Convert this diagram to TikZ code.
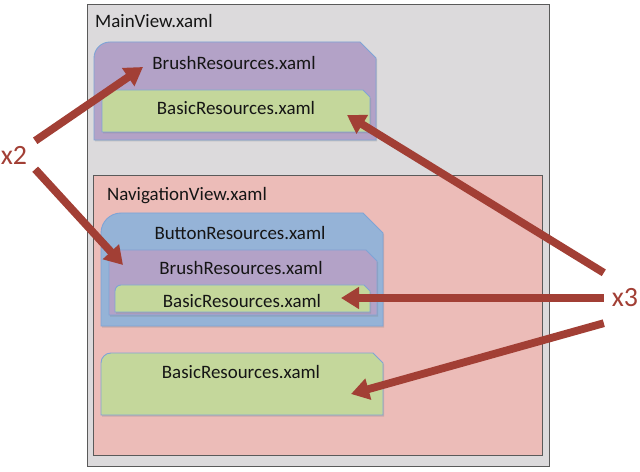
\documentclass[tikz,border=0pt]{standalone}
\usepackage{fontspec}
\setmainfont{Carlito}
\usepackage{tikz}
\usetikzlibrary{positioning,arrows.meta,shadows}
\definecolor{ink}     {HTML}{151515}
\definecolor{frame}   {HTML}{5A5A5A}
\definecolor{viewgray}{HTML}{DCDADC}
\definecolor{viewpink}{HTML}{ECBCB8}
\definecolor{brush}   {HTML}{B3A2C7}
\definecolor{button}  {HTML}{95B3D7}
\definecolor{basic}   {HTML}{C4D79B}
\definecolor{edge}    {HTML}{7EA4D6}
\definecolor{rust}    {HTML}{A23F35}
\tikzset{
  every node/.style={font=\fontsize{19}{22}\selectfont, text=ink},
  % --- boxes
  view/.style  = {draw=frame, line width=0.9bp,
                  drop shadow={shadow xshift=1.2bp, shadow yshift=-1.2bp, opacity=.45}},
  res/.style   = {draw=edge, line width=0.9bp,
                  drop shadow={shadow xshift=1bp, shadow yshift=-1.5bp, opacity=.3}},
  lbl/.style   = {anchor=base, inner sep=0pt},
  count/.style = {font=\fontsize{28}{31}\selectfont, text=rust, inner sep=0pt,
                  minimum width=42bp},
  % --- edges
  e/.style     = {-{Triangle[length=18bp,width=21bp]}, line width=7.8bp, draw=rust},
}
% box with round top-left and snipped top-right corner
\newcommand{\snipbox}[6]{%
  \path[#1] (#2,#5) -- (#2,#3+#6) arc[start angle=180, end angle=270, radius=#6]
    -- (#4-#6,#3) -- (#4,#3+#6) -- (#4,#5) -- cycle;}

\begin{document}
\begin{tikzpicture}[x=1bp, y=-1bp]
  \useasboundingbox (0,0) rectangle (640,472);

  % MainView
  \path[view, fill=viewgray] (87,4) rectangle (549,466);
  \node[anchor=base west, inner sep=0pt] (mainview) at (95,28) {MainView.xaml};
  \snipbox{res, fill=brush}{94}{42}{376}{140}{16}
  \snipbox{res, fill=basic}{102}{90}{370}{132}{7}
  \node[lbl] (brushmain) at (234,70) {BrushResources.xaml};
  \node[lbl] (basicmain) at (236,115) {BasicResources.xaml};

  % NavigationView
  \path[view, fill=viewpink] (93,175) rectangle (542,455);
  \node[anchor=base west, inner sep=0pt] (navview) at (107,201) {NavigationView.xaml};
  \snipbox{res, fill=button}{101}{213}{383}{326}{20}
  \snipbox{res, fill=brush}{109}{250}{377}{315}{11}
  \snipbox{res, fill=basic}{115}{285}{370}{312}{6}
  \snipbox{res, fill=basic}{101}{353}{383}{415}{10}
  \node[lbl] (buttonnav) at (240,240) {ButtonResources.xaml};
  \node[lbl] (brushnav)  at (241,275) {BrushResources.xaml};
  \node[lbl] (basicnav)  at (242,308) {BasicResources.xaml};
  \node[lbl] (basicown)  at (241,378) {BasicResources.xaml};

  % counts
  \node[count, minimum height=28bp] (twice)  at (14,155)  {x2};
  \node[count, minimum height=50bp] (thrice) at (625,298) {x3};

  \coordinate (hitbrushmain) at (143,67);
  \coordinate (hitbrushnav)  at (123,265);
  \coordinate (hitbasicmain) at (347,115);
  \coordinate (hitbasicnav)  at (341,298);
  \coordinate (hitbasicown)  at (351,394);

  \draw[e] (twice.north east) -- (hitbrushmain);
  \draw[e] (twice.south east) -- (hitbrushnav);
  \draw[e] (thrice.north west) -- (hitbasicmain);
  \draw[e] (thrice.west) -- (hitbasicnav);
  \draw[e] (thrice.south west) -- (hitbasicown);
\end{tikzpicture}
\end{document}
